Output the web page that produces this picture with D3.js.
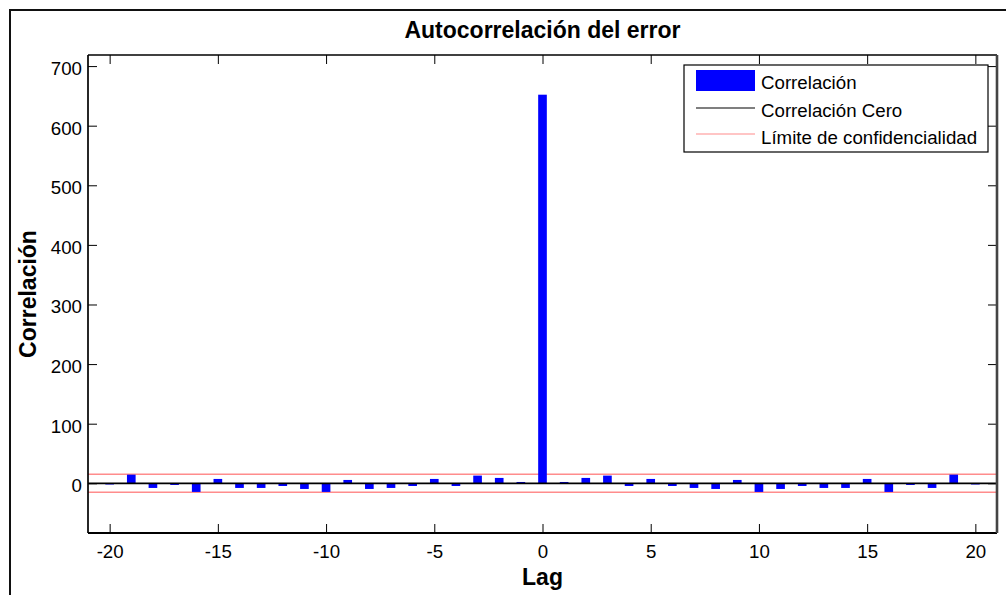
<!DOCTYPE html>
<html>
<head>
<meta charset="utf-8">
<script src="https://cdn.jsdelivr.net/npm/d3@7"></script>
<style>
  body { margin: 0; background: #fff; }
  text { font-family: "Liberation Sans", Arial, sans-serif; fill: #000; }
</style>
</head>
<body>
<div id="chart-area"></div>
<script>
// lags and autocorrelation values
const lags = [-20, -19, -18, -17, -16, -15, -14, -13, -12, -11, -10, -9, -8, -7, -6, -5, -4, -3, -2, -1,
    0, 1, 2, 3, 4, 5, 6, 7, 8, 9, 10, 11, 12, 13, 14, 15, 16, 17, 18, 19, 20];
const correlation = [-2, 14.5, -7.8, -2.8, -14.5, 7.3, -7.8, -7.8, -4.5, -9.5, -14.5, 5.6, -9.5, -7.8, -4.5, 7.3, -4.5, 12.9, 9, 2.2,
    652, 2.2, 9, 12.9, -4.5, 7.3, -4.5, -7.8, -9.5, 5.6, -14.5, -9.5, -4.5, -7.8, -7.8, 7.3, -14.5, -2.8, -7.8, 14.5, -2];
const confLimit = 15;
const xTicks = [-20, -15, -10, -5, 0, 5, 10, 15, 20];
const yTicks = [0, 100, 200, 300, 400, 500, 600, 700];
const legendLabels = ["Correlación", "Correlación Cero", "Límite de confidencialidad"];

const data = lags.map((lag, i) => ({lag: lag, value: correlation[i]}));

let width = 1006;
let height = 595;
const svg = d3.select("#chart-area")
    .append("svg")
    .attr("width", width)
    .attr("height", height);

// figure frame (only top and left edges are inside the picture)
svg.append("path")
    .attr("d", "M10,595 L10,10 L1006,10")
    .attr("fill", "none")
    .attr("stroke", "#111")
    .attr("stroke-width", 2);

const margin = {top: 55, right: 9, bottom: 62, left: 88};
width = width - margin.left - margin.right;
height = height - margin.top - margin.bottom;

const x = d3.scaleLinear()
    .domain([-21, 21])
    .range([0, width]);

const y = d3.scaleLinear()
    .domain([-83.4, 718.6])
    .range([height, 0]);

const g = svg.append("g")
    .attr("transform", "translate(" + margin.left + "," + margin.top + ")");

// confidence limits
g.selectAll(".conf")
    .data([confLimit, -confLimit])
    .enter()
    .append("line")
    .attr("class", "conf")
    .attr("x1", 0)
    .attr("x2", width)
    .attr("y1", d => y(d))
    .attr("y2", d => y(d))
    .attr("stroke", "#ff8c8c")
    .attr("stroke-width", 1.5);

// bars
const barW = 0.4 * (x(1) - x(0));
g.selectAll("rect.bar")
    .data(data)
    .enter()
    .append("rect")
    .attr("class", "bar")
    .attr("x", d => x(d.lag) - barW / 2)
    .attr("y", d => y(Math.max(0, d.value)))
    .attr("width", barW)
    .attr("height", d => Math.abs(y(d.value) - y(0)))
    .attr("fill", "#0000ff");

// zero line
g.append("line")
    .attr("x1", 0)
    .attr("x2", width)
    .attr("y1", y(0))
    .attr("y2", y(0))
    .attr("stroke", "#000")
    .attr("stroke-width", 1.8);

// axes, MATLAB style inward ticks
const fmt = d => String(d);
const xAxisCall = d3.axisBottom(x).tickValues(xTicks).tickSize(-9).tickSizeOuter(0)
    .tickPadding(11.7).tickFormat(fmt);
const xAxis = g.append("g")
    .attr("transform", "translate(0," + height + ")")
    .call(xAxisCall);

const yAxisCall = d3.axisLeft(y).tickValues(yTicks).tickSize(-9).tickSizeOuter(0)
    .tickPadding(6).tickFormat(fmt);
const yAxis = g.append("g").call(yAxisCall);

g.append("g")
    .call(d3.axisTop(x).tickValues(xTicks).tickSize(-9).tickSizeOuter(0).tickFormat(""));
g.append("g")
    .attr("transform", "translate(" + width + ",0)")
    .call(d3.axisRight(y).tickValues(yTicks).tickSize(-9).tickSizeOuter(0).tickFormat(""));

g.selectAll(".domain").remove();
g.selectAll(".tick line").attr("stroke", "#000");
g.selectAll(".tick text")
    .attr("font-family", "'Liberation Sans', Arial, sans-serif")
    .attr("font-size", 18.7)
    .attr("fill", "#000");
yAxis.selectAll(".tick text").attr("dy", "0.45em");

// axes box
g.append("line").attr("x1", 0).attr("x2", width).attr("y1", 0).attr("y2", 0)
    .attr("stroke", "#000").attr("stroke-width", 1.5);
g.append("line").attr("x1", 0).attr("x2", width).attr("y1", height).attr("y2", height)
    .attr("stroke", "#000").attr("stroke-width", 2);
g.append("line").attr("x1", 0).attr("x2", 0).attr("y1", 0).attr("y2", height)
    .attr("stroke", "#000").attr("stroke-width", 1.7);
g.append("line").attr("x1", width).attr("x2", width).attr("y1", 0).attr("y2", height)
    .attr("stroke", "#444").attr("stroke-width", 2.6);

// title and labels
g.append("text")
    .attr("x", width / 2)
    .attr("y", -16.7)
    .attr("text-anchor", "middle")
    .attr("font-size", 23)
    .attr("font-weight", "bold")
    .text("Autocorrelación del error");

g.append("text")
    .attr("x", width / 2)
    .attr("y", height + 52)
    .attr("text-anchor", "middle")
    .attr("font-size", 23)
    .attr("font-weight", "bold")
    .text("Lag");

g.append("text")
    .attr("transform", "translate(" + (-52) + "," + (height / 2) + ") rotate(-90)")
    .attr("text-anchor", "middle")
    .attr("font-size", 23)
    .attr("font-weight", "bold")
    .text("Correlación");

// legend
const legend = svg.append("g").attr("transform", "translate(684,65)");
legend.append("rect")
    .attr("width", 304)
    .attr("height", 87)
    .attr("fill", "#fff")
    .attr("stroke", "#000")
    .attr("stroke-width", 1.2);
legend.append("rect")
    .attr("x", 12).attr("y", 5)
    .attr("width", 59).attr("height", 21)
    .attr("fill", "#0000ff");
legend.append("line")
    .attr("x1", 12).attr("x2", 71).attr("y1", 43).attr("y2", 43)
    .attr("stroke", "#000").attr("stroke-width", 1.2);
legend.append("line")
    .attr("x1", 12).attr("x2", 71).attr("y1", 69).attr("y2", 69)
    .attr("stroke", "#ff8c8c").attr("stroke-width", 1.2);
legend.selectAll("text.lab")
    .data(legendLabels)
    .enter()
    .append("text")
    .attr("class", "lab")
    .attr("x", 77)
    .attr("y", (d, i) => 24 + i * 27.6)
    .attr("font-size", 18.7)
    .text(d => d);
</script>
</body>
</html>
